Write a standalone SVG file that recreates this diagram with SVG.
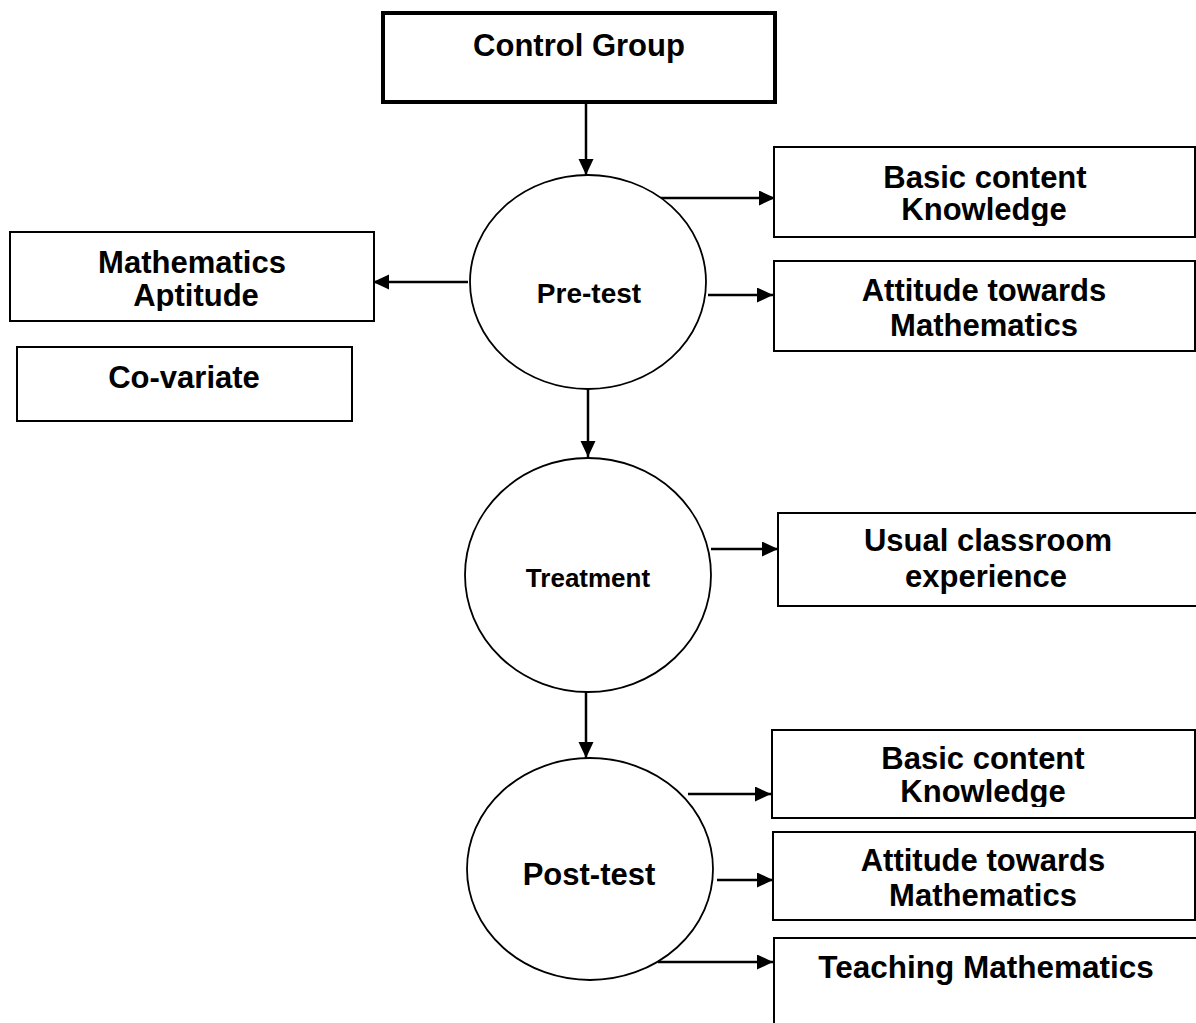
<svg xmlns="http://www.w3.org/2000/svg" width="1196" height="1023" viewBox="0 0 1196 1023">
<style>
.box{fill:#fff;stroke:#000;stroke-width:2}
.ell{fill:#fff;stroke:#000;stroke-width:1.8}
.t{font-family:"Liberation Sans",Arial,sans-serif;font-weight:bold;font-size:31px;text-anchor:middle;fill:#000}
.c{stroke:#000;stroke-width:2.5;fill:none;marker-end:url(#ah)}
</style>
<defs>
<marker id="ah" markerUnits="userSpaceOnUse" markerWidth="17" markerHeight="16" refX="16" refY="7.5" orient="auto">
<path d="M0,0 L16,7.5 L0,15 z" fill="#000"/>
</marker>
<clipPath id="clipApt"><rect x="0" y="225" width="380" height="86"/></clipPath>
<clipPath id="clipK1"><rect x="770" y="140" width="426" height="86"/></clipPath>
<clipPath id="clipK2"><rect x="770" y="725" width="426" height="82"/></clipPath>
</defs>
<rect width="1196" height="1023" fill="#fff"/>

<g id="connectors">
<line class="c" x1="586" y1="104" x2="586" y2="175"/>
<line class="c" x1="468" y1="282" x2="373" y2="282"/>
<line class="c" x1="660" y1="198" x2="775" y2="198"/>
<line class="c" x1="708" y1="295" x2="773" y2="295"/>
<line class="c" x1="588" y1="389" x2="588" y2="457"/>
<line class="c" x1="711" y1="549" x2="778" y2="549"/>
<line class="c" x1="586" y1="692" x2="586" y2="758"/>
<line class="c" x1="688" y1="794" x2="771" y2="794"/>
<line class="c" x1="717" y1="880" x2="773" y2="880"/>
<line class="c" x1="658" y1="962" x2="773" y2="962"/>
</g>

<g id="control-group">
<rect x="383" y="13" width="392" height="89" fill="#fff" stroke="#000" stroke-width="4"/>
<text class="t" x="579" y="56">Control Group</text>
</g>

<g id="pre-test">
<ellipse class="ell" cx="588" cy="282" rx="118" ry="107"/>
<text class="t" x="589" y="303" style="font-size:28px">Pre-test</text>
</g>

<g id="math-aptitude">
<rect class="box" x="10" y="232" width="364" height="89"/>
<g clip-path="url(#clipApt)">
<text class="t" x="192" y="273">Mathematics</text>
<text class="t" x="196" y="306">Aptitude</text>
</g>
</g>

<g id="co-variate">
<rect class="box" x="17" y="347" width="335" height="74"/>
<text class="t" x="184" y="388">Co-variate</text>
</g>

<g id="pre-basic">
<rect class="box" x="774" y="147" width="421" height="90"/>
<g clip-path="url(#clipK1)">
<text class="t" x="985" y="188">Basic content</text>
<text class="t" x="984" y="220">Knowledge</text>
</g>
</g>

<g id="pre-attitude">
<rect class="box" x="774" y="261" width="421" height="90"/>
<text class="t" x="984" y="301">Attitude towards</text>
<text class="t" x="984" y="336">Mathematics</text>
</g>

<g id="treatment">
<ellipse class="ell" cx="588" cy="575" rx="123" ry="117"/>
<text class="t" x="588" y="587" style="font-size:26px">Treatment</text>
</g>

<g id="usual-classroom">
<rect class="box" x="778" y="513" width="430" height="93"/>
<text class="t" x="988" y="551">Usual classroom</text>
<text class="t" x="986" y="587">experience</text>
</g>

<g id="post-test">
<ellipse class="ell" cx="590" cy="869" rx="123" ry="111"/>
<text class="t" x="589" y="885">Post-test</text>
</g>

<g id="post-basic">
<rect class="box" x="772" y="730" width="423" height="88"/>
<g clip-path="url(#clipK2)">
<text class="t" x="983" y="769">Basic content</text>
<text class="t" x="983" y="802">Knowledge</text>
</g>
</g>

<g id="post-attitude">
<rect class="box" x="773" y="832" width="422" height="88"/>
<text class="t" x="983" y="871">Attitude towards</text>
<text class="t" x="983" y="906">Mathematics</text>
</g>

<g id="teaching-math">
<path d="M774,1023 V938 H1196" fill="#fff" stroke="#000" stroke-width="2"/>
<text class="t" x="986" y="978" style="font-size:31.5px">Teaching Mathematics</text>
</g>
</svg>
